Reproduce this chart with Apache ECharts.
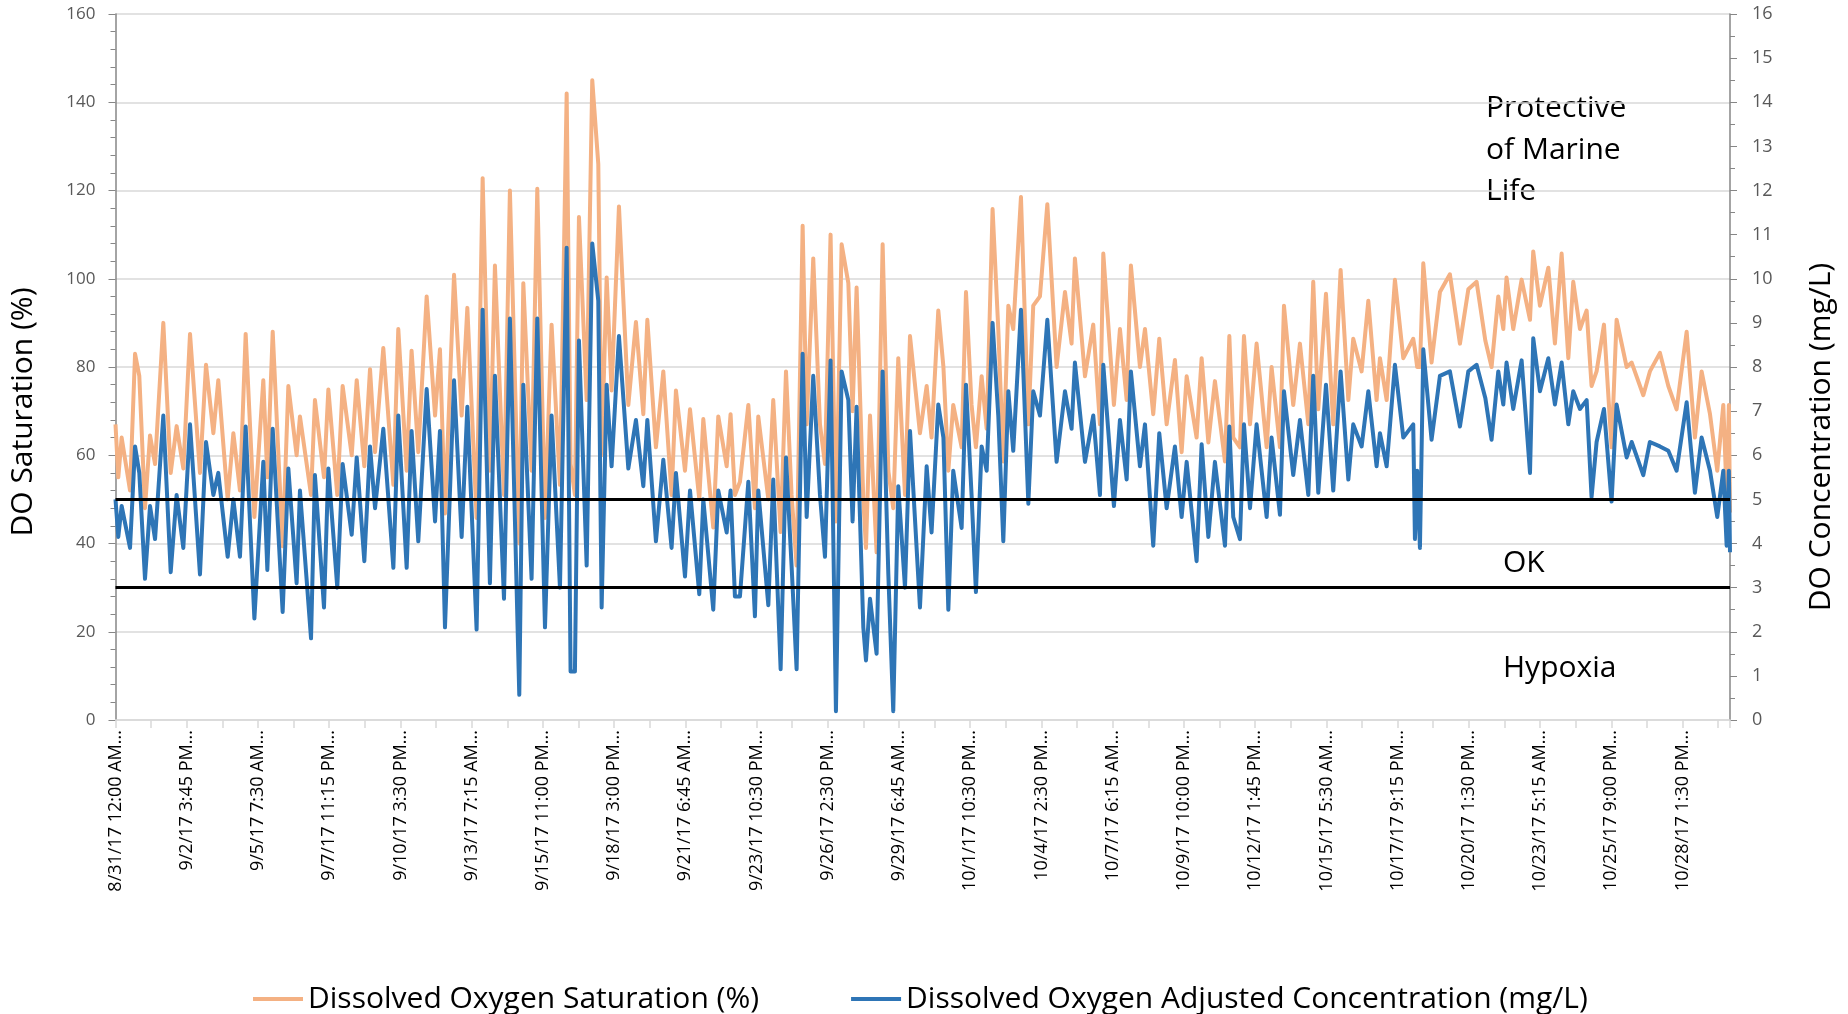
<!DOCTYPE html>
<html>
<head>
<meta charset="utf-8">
<title>DO Saturation and Concentration</title>
<script src="https://cdn.jsdelivr.net/npm/echarts@6.0.0/dist/echarts.min.js"></script>
<style>
  html, body { margin: 0; padding: 0; background: #fff; }
  #chart { width: 1848px; height: 1014px; }
</style>
</head>
<body>
<div id="chart"></div>
<script>
// hours since 8/31/17 12:00 AM (peaks and troughs)
var hours = [
  0,2.5,5.5,13,17.5,21.3,26.4,30.9,35.4,42.8, 49.4,54.7,60.7,66.7,75.6,81,87.6,92,100.4,105.5,
  111.4,116.5,124.3,132.3,135.9,140.7,149.6,154.7,162.1,165.1, 175,178.5,186.6,190.5,198.5,203.3,211.4,215.9,222.7,227.8,
  232.3,239.7,248.7,253.1,
  260.6,265,271,278.5,286,290.4,294.9,303,309.8,314.9, 323.2,328.6,335.1,339.6,347.7,353,361.4,365,372.4,377.5,
  384.4,390.3,397.8,403.8,407.3,411.2,414.8,421.7,426.7,432.1, 435.1,439.6,444,450.6,459,465.8,472.4,476,483.7,490.3,
  497.7,501.6,
  509.7,514.2,522.5,526.1,535,539.5,547,550.5,554.4,558.9, 566.4,572.3,575.3,584.3,588.7,595.3,600.1,605.1,609.6,615,
  618.6,624.5,630.5,635,640,644.8,649.9,655.9,659.7,663.3, 669.3,671.7,675.3,681.2,686.6,691.7,696.1,700.6,706.6,711.1,
  720,726,730.4,736.4,741,745.4,749.8,
  757.3,761.2,766.2,770.1,775.2,779.7,785,790.1,794.6,799.1, 803.5,810.4,817,821.4,827.4,834,842.3,849.8,855.7,858.7,
  867.7,875.1,881.1,884.1,893.6,899,905,908.8,916.9,921.4, 928.8,934.2,940.8,948.2,954.2,958.7,967.6,972.1,978.1,984,
  993,996.9,
  1000.4,1006.4,1010,1015.4,1021.3,1030.3,1034.7,1042.2,1045.8,1054.1, 1060.1,1067.6,1072,1076.5,1083.4,1089.9,1096.5,1103.4,1107.8,1115.3,
  1121.3,1128.7,1131.7,1137.7,1145.1,1152.6,1161.5,1163,1165,1167.5, 1170.5,1177.9,1185.4,1194.3,1203.3,1210.8,1218.2,
  1226,1231.6,1237.6,1242.1,1245,1251,1258.5,1266,1268.9,1274.9, 1282.4,1288.3,1294.3,1300.3,1304.7,1310.7,1316.7,1321.1,1325.6,1332.2,
  1339,1343.5,1352.5,1357,1367.4,1373.3,1382.3,1389.8,1397.2,1406.2, 1413.6,1419.6,1427.1,1433.6,1439,1442,1444,1445
];

// Dissolved Oxygen Saturation (%)
var satValues = [
  67,55,64,52,83,78,48,64.5,58,90, 56,66.6,57,87.5,56,80.5,65,77,50,65,
  52,87.5,46,77,55,88,39.4,75.7,60,68.8, 51,72.5,55,74.9,51,75.7,60,77,57.5,79.5,
  60.7,84.3,53.3,88.6,
  56.5,83.7,60.7,96,69,84,46.8,100.9,69,93.4, 45.8,122.8,56.5,103,51,120,40,99,56.5,120.4,
  45.8,89.6,53.3,142,58,51,114,72.5,145,126, 60,100.3,74.7,116.4,71.4,90.2,69.3,90.7,61.8,79,
  51,74.7,
  56.5,70.4,50,68.2,43.6,68.8,57.5,69.3,51,54, 71.4,48,68.8,50,72.5,42.6,79,51,35,112,
  67,104.6,67,58,110,45,107.8,99,70,98, 50,39,69,38,107.8,56.5,48,82,51,87,
  65,75.7,64,92.8,80,56.5,71.4,
  61.8,97,71.4,61.8,77.9,66,115.8,88.6,58.6,93.9, 88.6,118.5,67,93.9,96,116.9,80,97,85.3,104.6,
  77.9,89.6,67,105.7,71.4,88.6,72.5,103,80,88.6, 69.3,86.4,67,81.6,60.7,77.9,64,82,62.9,76.8,
  58.6,87,
  64,61.8,87,67,85.3,61.8,80,61.8,93.9,71.4, 85.3,67,99.3,70.4,96.6,67,102,72.5,86.4,79,
  95,72.5,82,72.5,99.8,82,86.4,84,80,80, 103.5,81,97,101,85.3,97.6,99.3,
  86,80,96,88.6,100.3,88.6,99.8,90.7,106.2,93.9, 102.5,85.3,105.7,82,99.3,88.6,92.8,75.7,79,89.6,
  61.8,90.7,80,81,73.6,79,83.2,75.7,70.4,88, 64,79,69.3,56.5,71.4,51,71.4,47
];

// Dissolved Oxygen Adjusted Concentration (mg/L)
var concValues = [
  5.0,4.15,4.85,3.9,6.2,5.6,3.2,4.85,4.1,6.9, 3.35,5.1,3.9,6.7,3.3,6.3,5.1,5.6,3.7,5.0,
  3.7,6.65,2.3,5.85,3.4,6.6,2.45,5.7,3.1,5.2, 1.85,5.55,2.55,5.7,3.0,5.8,4.2,5.95,3.6,6.2,
  4.8,6.6,3.45,6.9,
  3.45,6.55,4.05,7.5,4.5,6.55,2.1,7.7,4.15,7.1, 2.05,9.3,3.1,7.8,2.75,9.1,0.57,7.6,3.2,9.1,
  2.1,6.9,3.0,10.7,1.1,1.1,8.6,3.5,10.8,9.5, 2.55,7.6,5.75,8.7,5.7,6.8,5.3,6.8,4.05,5.9,
  3.9,5.6,
  3.25,5.2,2.85,5.0,2.5,5.2,4.25,5.2,2.8,2.8, 5.4,2.35,5.2,2.6,5.45,1.15,5.95,3.5,1.15,8.3,
  4.6,7.8,5.1,3.7,8.15,0.2,7.9,7.25,4.5,7.1, 2.1,1.35,2.75,1.5,7.9,3.3,0.2,5.3,3.0,6.55,
  2.55,5.75,4.25,7.15,6.4,2.5,5.65,
  4.35,7.6,5.1,2.9,6.2,5.65,9.0,6.9,4.05,7.45, 6.1,9.3,4.9,7.45,6.9,9.07,5.85,7.45,6.6,8.1,
  5.85,6.9,5.1,8.05,4.85,6.8,5.45,7.9,5.75,6.7, 3.95,6.5,4.8,6.2,4.6,5.85,3.6,6.25,4.15,5.85,
  3.95,6.65,
  4.6,4.1,6.7,4.8,6.7,4.6,6.4,4.65,7.45,5.55, 6.8,5.1,7.8,5.15,7.6,5.2,7.9,5.45,6.7,6.2,
  7.45,5.75,6.5,5.75,8.05,6.4,6.7,4.1,5.65,3.9, 8.4,6.35,7.8,7.9,6.65,7.9,8.05,
  7.3,6.35,7.9,7.15,8.1,7.05,8.15,5.6,8.65,7.45, 8.2,7.15,8.1,6.7,7.45,7.05,7.25,5.05,6.3,7.05,
  4.95,7.15,5.95,6.3,5.55,6.3,6.2,6.1,5.65,7.2, 5.15,6.4,5.65,4.6,5.65,3.95,5.65,3.8
];

var tickLabels = [
  '8/31/17 12:00 AM...', '9/2/17 3:45 PM...', '9/5/17 7:30 AM...', '9/7/17 11:15 PM...',
  '9/10/17 3:30 PM...', '9/13/17 7:15 AM...', '9/15/17 11:00 PM...', '9/18/17 3:00 PM...',
  '9/21/17 6:45 AM...', '9/23/17 10:30 PM...', '9/26/17 2:30 PM...', '9/29/17 6:45 AM...',
  '10/1/17 10:30 PM...', '10/4/17 2:30 PM...', '10/7/17 6:15 AM...', '10/9/17 10:00 PM...',
  '10/12/17 1:45 PM...', '10/15/17 5:30 AM...', '10/17/17 9:15 PM...', '10/20/17 1:30 PM...',
  '10/23/17 5:15 AM...', '10/25/17 9:00 PM...', '10/28/17 1:30 PM...'
];
var tickStep = 63.75;   // hours between labels
var endHour = 1445;

var thresholds = [50, 30];  // saturation % lines (5 and 3 mg/L)

var font = '"Open Sans", "Noto Sans", sans-serif';
var axisGray = '#868686';
var lightGray = '#D9D9D9';

var satData = hours.map(function (h, i) { return [h, satValues[i]]; });
var concData = hours.map(function (h, i) { return [h, concValues[i]]; });

var myChart = echarts.init(document.getElementById('chart'));

function note(text, x, y) {
  return { type: 'text', x: x, y: y,
    style: { text: text, font: '30px ' + font, fill: '#000', textVerticalAlign: 'middle', verticalAlign: 'middle' } };
}
function axisTitle(text, x, y) {
  return { type: 'text', x: x, y: y, rotation: Math.PI / 2,
    style: { text: text, font: '30px ' + font, fill: '#000',
             textAlign: 'center', textVerticalAlign: 'middle', align: 'center', verticalAlign: 'middle' } };
}

var option = {
  animation: false,
  backgroundColor: '#fff',
  textStyle: { fontFamily: font },
  grid: { left: 115.5, right: 118, top: 14, bottom: 294, containLabel: false },
  legend: {
    left: 248,
    top: 979,
    icon: 'rect',
    itemWidth: 50,
    itemHeight: 4,
    itemGap: 92,
    textStyle: { fontSize: 30, color: '#000', fontFamily: font },
    data: ['Dissolved Oxygen Saturation (%)', 'Dissolved Oxygen Adjusted Concentration (mg/L)']
  },
  xAxis: {
    type: 'value',
    min: 0,
    max: endHour,
    interval: tickStep,
    splitLine: { show: false },
    axisLine: { lineStyle: { color: lightGray, width: 1.5 } },
    axisTick: { length: 8, lineStyle: { color: lightGray, width: 1.5 } },
    minorTick: { show: true, splitNumber: 2, length: 8, lineStyle: { color: lightGray, width: 1.5 } },
    axisLabel: {
      rotate: 90,
      margin: 10,
      fontSize: 18,
      color: '#000',
      showMaxLabel: false,
      formatter: function (v) {
        var i = Math.round(v / tickStep);
        return tickLabels[i] || '';
      }
    }
  },
  yAxis: [
    {
      type: 'value',
      min: 0,
      max: 160,
      interval: 20,
      axisLine: { show: true, lineStyle: { color: axisGray, width: 1.5 } },
      axisTick: { show: true, length: 7, lineStyle: { color: axisGray } },
      minorTick: { show: true, splitNumber: 5, length: 5, lineStyle: { color: axisGray } },
      splitLine: { lineStyle: { color: lightGray, width: 1.5 } },
      axisLabel: { fontSize: 17, color: '#595959', margin: 20 }
    },
    {
      type: 'value',
      position: 'right',
      min: 0,
      max: 16,
      interval: 1,
      axisLine: { show: true, lineStyle: { color: axisGray, width: 1.5 } },
      axisTick: { show: true, length: 7, lineStyle: { color: axisGray } },
      minorTick: { show: true, splitNumber: 2, length: 5, lineStyle: { color: axisGray } },
      splitLine: { show: false },
      axisLabel: { fontSize: 18, color: '#595959', margin: 22 }
    }
  ],
  graphic: [
    axisTitle('DO Saturation (%)', 23, 412),
    axisTitle('DO Concentration (mg/L)', 1821, 437),
    note('Protective', 1486, 108),
    note('of Marine', 1486, 150),
    note('Life', 1486, 191),
    note('OK', 1503, 563),
    note('Hypoxia', 1503, 668)
  ],
  series: [
    {
      name: 'Dissolved Oxygen Saturation (%)',
      type: 'line',
      yAxisIndex: 0,
      data: satData,
      showSymbol: false,
      color: '#F4B183',
      lineStyle: { color: '#F4B183', width: 4, join: 'round' },
      z: 2,
      markLine: {
        silent: true,
        symbol: 'none',
        label: { show: false },
        lineStyle: { color: '#000', width: 3, type: 'solid' },
        data: thresholds.map(function (t) { return { yAxis: t }; })
      }
    },
    {
      name: 'Dissolved Oxygen Adjusted Concentration (mg/L)',
      type: 'line',
      yAxisIndex: 1,
      data: concData,
      showSymbol: false,
      color: '#2E75B6',
      lineStyle: { color: '#2E75B6', width: 4, join: 'round' },
      z: 3
    }
  ]
};

myChart.setOption(option);
</script>
</body>
</html>
